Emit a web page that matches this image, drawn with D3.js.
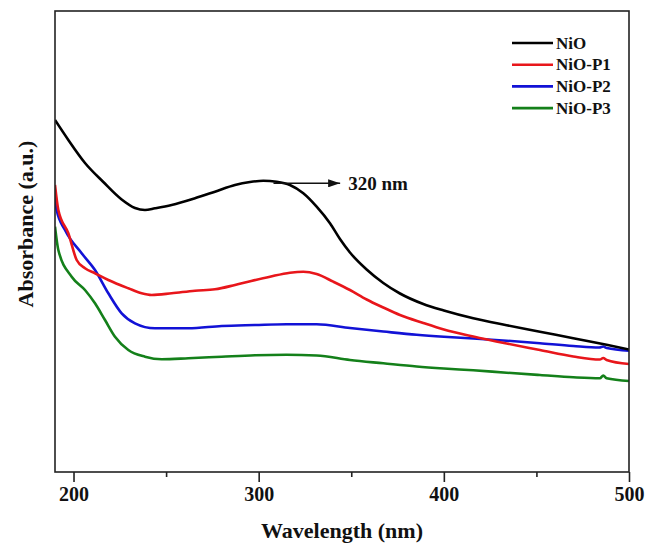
<!DOCTYPE html>
<meta charset="utf-8">
<style>
body { margin: 0; background: #fff; }
text { font-family: "Liberation Serif", "Times New Roman", serif; font-weight: bold; fill: #111; }
</style>
<body>
<script src="https://cdn.jsdelivr.net/npm/d3@7"></script>
<script>

// each series: wavelengths (nm) and absorbance (a.u.)
var nioW   = [190, 197.2, 206.2, 216.1, 226, 233.2, 238.6, 244, 253, 265.6, 276.4, 287.2, 295.3, 302.5, 309.7, 316.9,
              324.1, 331.3, 338.5, 343.9, 349.3, 358.3, 367.3, 376.3, 388.9, 400, 415.9, 433.9, 451.9, 469.9, 487.9, 500];
var nioA   = [3.52, 3.32, 3.09, 2.90, 2.725, 2.64, 2.62, 2.637, 2.67, 2.737, 2.803, 2.87, 2.90, 2.913, 2.903, 2.87,
              2.787, 2.653, 2.487, 2.33, 2.195, 2.025, 1.89, 1.785, 1.68, 1.615, 1.537, 1.468, 1.403, 1.337, 1.272, 1.225];

var nioP1W = [190, 191.8, 197.2, 201.7, 206.2, 211.6, 218.8, 229.6, 236.8, 242.2, 253, 265.6, 276.4, 287.2, 296, 306.1,
              316.9, 324.1, 331.3, 340.3, 349.3, 358.3, 367.3, 376.3, 388.9, 400, 415.9, 433.9, 451.9, 469.9, 484.3, 486.1, 487.9, 500];
var nioP1A = [2.87, 2.62, 2.387, 2.12, 2.037, 1.987, 1.92, 1.837, 1.787, 1.77, 1.787, 1.813, 1.827, 1.87, 1.91, 1.953,
              1.993, 2.003, 1.98, 1.903, 1.82, 1.725, 1.645, 1.57, 1.49, 1.425, 1.355, 1.285, 1.22, 1.155, 1.125, 1.14, 1.12, 1.08];

var nioP2W = [190, 190.9, 195.4, 204.4, 211.6, 218.8, 226, 233.2, 244, 262, 280, 298, 315, 331.3, 349.3, 367.3, 385.3,
              400, 415.9, 433.9, 451.9, 469.9, 484, 486.1, 488, 500];
var nioP2A = [2.753, 2.62, 2.42, 2.187, 2.02, 1.787, 1.587, 1.487, 1.437, 1.437, 1.46, 1.47, 1.478, 1.477, 1.44, 1.405, 1.372,
              1.352, 1.335, 1.313, 1.287, 1.26, 1.245, 1.255, 1.24, 1.213];

var nioP3W = [190, 191.8, 199, 206.2, 211.6, 217, 222.4, 229.6, 238.6, 247.6, 262, 280, 298, 315, 331.3, 349.3, 367.3,
              385.3, 400, 415.9, 433.9, 451.9, 469.9, 484.3, 486.1, 487.9, 500];
var nioP3A = [2.453, 2.22, 1.953, 1.82, 1.687, 1.52, 1.353, 1.22, 1.153, 1.127, 1.137, 1.153, 1.168, 1.172, 1.165, 1.12, 1.087,
              1.055, 1.035, 1.017, 0.993, 0.97, 0.947, 0.937, 0.965, 0.937, 0.91];

var seriesNames = ["NiO", "NiO-P1", "NiO-P2", "NiO-P3"];
var seriesW = [nioW, nioP1W, nioP2W, nioP3W];
var seriesA = [nioA, nioP1A, nioP2A, nioP3A];
var colors = ["#000000", "#e8161b", "#1212d6", "#14801a"];

var majorTicks = [200, 300, 400, 500];
var minorTicks = [250, 350, 450];

// peak annotation
var peakFrom = 308, peakTo = 344, peakY = 2.887, peakLabel = "320 nm";

// Set the dimensions of the canvas / graph
var margin = {top: 11, right: 17, bottom: 74, left: 55},
    width = 646 - margin.left - margin.right,
    height = 546 - margin.top - margin.bottom;

var x = d3.scaleLinear().domain([190, 500]).range([0, width]);
var y = d3.scaleLinear().domain([0, 4.61]).range([height, 0]);

var svg = d3.select("body").append("svg")
    .attr("width", 646)
    .attr("height", 546)
  .append("g")
    .attr("transform", "translate(" + margin.left + "," + margin.top + ")");

var line = d3.line()
    .x(function(d) { return x(d[0]); })
    .y(function(d) { return y(d[1]); })
    .curve(d3.curveMonotoneX);

svg.append("defs").append("clipPath").attr("id", "clip")
  .append("rect").attr("width", width).attr("height", height);

// curves, drawn green first so black ends on top
var curves = svg.append("g").attr("clip-path", "url(#clip)");
for (var s = seriesA.length - 1; s >= 0; s--) {
  curves.append("path")
      .datum(seriesW[s].map(function(w, i) { return [w, seriesA[s][i]]; }))
      .attr("fill", "none")
      .attr("stroke", colors[s])
      .attr("stroke-width", 2.6)
      .attr("stroke-linejoin", "round")
      .attr("d", line);
}

// frame
svg.append("rect")
    .attr("width", width)
    .attr("height", height)
    .attr("fill", "none")
    .attr("stroke", "#222")
    .attr("stroke-width", 1.6);

// bottom axis, major ticks with labels
var xAxis = svg.append("g")
    .attr("transform", "translate(0," + height + ")")
    .call(d3.axisBottom(x).tickValues(majorTicks).tickSize(10).tickPadding(5).tickFormat(d3.format("d")));
xAxis.select(".domain").remove();
xAxis.selectAll(".tick line").attr("stroke", "#222").attr("stroke-width", 1.6);
xAxis.selectAll(".tick text")
    .style("font-size", "20px")
    .style("font-family", "'Liberation Serif', serif")
    .style("font-weight", "bold")
    .attr("fill", "#111");

// minor ticks
var xMinor = svg.append("g")
    .attr("transform", "translate(0," + height + ")")
    .call(d3.axisBottom(x).tickValues(minorTicks).tickSize(5).tickFormat(""));
xMinor.select(".domain").remove();
xMinor.selectAll(".tick line").attr("stroke", "#222").attr("stroke-width", 1.6);

// axis labels
svg.append("text")
    .attr("x", width / 2)
    .attr("y", 527)
    .style("text-anchor", "middle")
    .style("font-size", "22px")
    .text("Wavelength (nm)");

svg.append("text")
    .attr("transform", "rotate(-90)")
    .attr("x", -(224 - margin.top))
    .attr("y", -22)
    .style("text-anchor", "middle")
    .style("font-size", "22px")
    .text("Absorbance (a.u.)");

// legend
var legend = svg.append("g")
    .selectAll("g")
    .data(seriesNames)
    .enter().append("g")
      .attr("transform", function(d, i) { return "translate(" + (width - 117) + "," + (32 + i * 21.7) + ")"; });

legend.append("line")
    .attr("x1", 0)
    .attr("x2", 41)
    .attr("stroke", function(d, i) { return colors[i]; })
    .attr("stroke-width", 2.6);

legend.append("text")
    .attr("x", 44)
    .attr("dy", "0.34em")
    .style("font-size", "17px")
    .text(function(d) { return d; });

// peak arrow
svg.append("defs").append("marker")
    .attr("id", "arrow")
    .attr("viewBox", "0 0 12 8")
    .attr("refX", 12)
    .attr("refY", 4)
    .attr("markerWidth", 12)
    .attr("markerHeight", 8)
    .attr("markerUnits", "userSpaceOnUse")
    .attr("orient", "auto")
  .append("path")
    .attr("d", "M0,0L12,4L0,8Z")
    .attr("fill", "#111");

svg.append("line")
    .attr("x1", x(peakFrom))
    .attr("x2", x(peakTo))
    .attr("y1", y(peakY))
    .attr("y2", y(peakY))
    .attr("stroke", "#111")
    .attr("stroke-width", 1.4)
    .attr("marker-end", "url(#arrow)");

svg.append("text")
    .attr("x", x(peakTo) + 8)
    .attr("y", y(peakY) + 7)
    .style("font-size", "19px")
    .text(peakLabel);

</script>
</body>
